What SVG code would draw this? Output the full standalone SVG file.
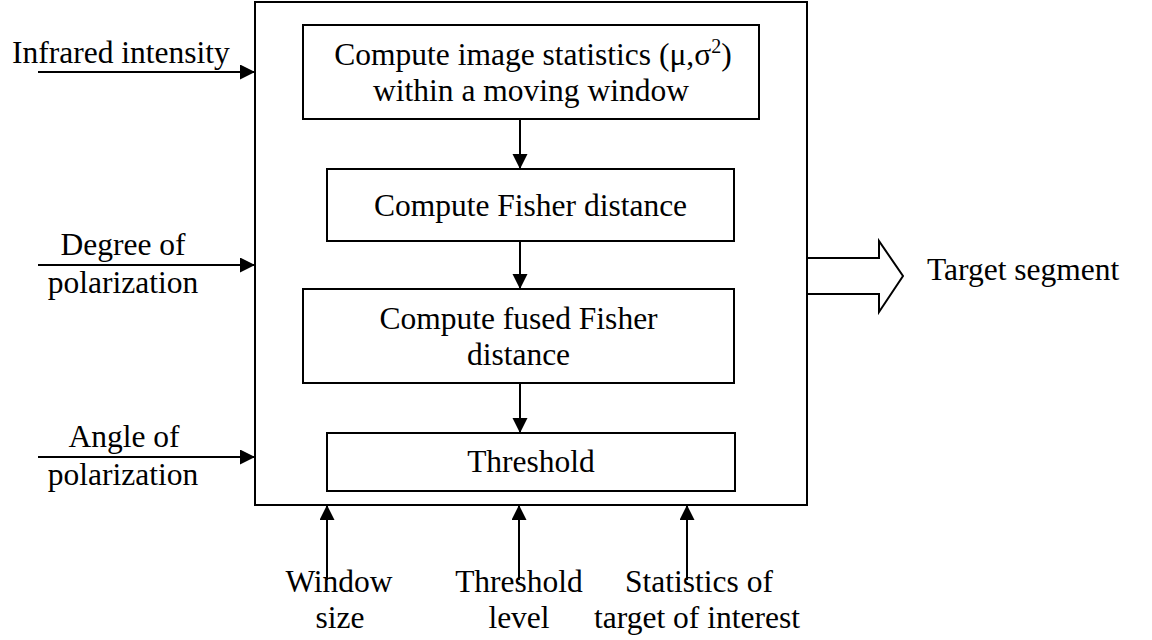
<svg xmlns="http://www.w3.org/2000/svg" width="1152" height="640" viewBox="0 0 1152 640">
<style>
text{font-family:"Liberation Serif","Times New Roman",serif;font-size:31.5px;fill:#000}
.c{text-anchor:middle}
.box{fill:#fff;stroke:#000;stroke-width:2}
.ln{stroke:#000;stroke-width:2;fill:none}
</style>
<defs>
<marker id="ah" markerUnits="userSpaceOnUse" markerWidth="16" markerHeight="16" refX="15" refY="7.5" orient="auto">
<path d="M0,0 L15,7.5 L0,15 Z" fill="#000"/>
</marker>
</defs>
<rect width="1152" height="640" fill="#fff"/>
<g id="system"><rect class="box" x="255" y="2" width="552" height="503" stroke-width="2.2"/></g>
<g id="stats"><rect class="box" x="303" y="25" width="456" height="94"/>
<text class="c" x="533" y="65">Compute image statistics (μ,σ<tspan font-size="20" dy="-12">2</tspan><tspan dy="12">)</tspan></text>
<text class="c" x="531" y="101">within a moving window</text></g>
<g id="fisher"><rect class="box" x="327" y="169" width="407" height="72"/>
<text class="c" x="530.5" y="216">Compute Fisher distance</text></g>
<g id="fused"><rect class="box" x="303" y="289" width="431" height="94"/>
<text class="c" x="518.5" y="329">Compute fused Fisher</text>
<text class="c" x="518.5" y="365">distance</text></g>
<g id="threshold"><rect class="box" x="327" y="433" width="408" height="58"/>
<text class="c" x="531" y="472">Threshold</text></g>
<g id="in-infrared"><text x="12" y="63">Infrared intensity</text></g>
<g id="in-degree"><text class="c" x="123" y="255">Degree of</text><text class="c" x="123" y="293">polarization</text></g>
<g id="in-angle"><text class="c" x="124" y="447">Angle of</text><text class="c" x="123" y="485">polarization</text></g>
<g id="in-window"><text class="c" x="339" y="592">Window</text><text class="c" x="340" y="628">size</text></g>
<g id="in-level"><text class="c" x="519" y="592">Threshold</text><text class="c" x="519" y="628">level</text></g>
<g id="in-target"><text class="c" x="699" y="592">Statistics of</text><text class="c" x="697" y="628">target of interest</text></g>
<g id="out-segment"><text x="927" y="280">Target segment</text></g>
<g id="connectors">
<line class="ln" x1="520" y1="119" x2="520" y2="169" marker-end="url(#ah)"/>
<line class="ln" x1="520" y1="241" x2="520" y2="289" marker-end="url(#ah)"/>
<line class="ln" x1="520" y1="383" x2="520" y2="433" marker-end="url(#ah)"/>
<line class="ln" x1="38" y1="72" x2="255" y2="72" marker-end="url(#ah)"/>
<line class="ln" x1="38" y1="265" x2="255" y2="265" marker-end="url(#ah)"/>
<line class="ln" x1="38" y1="457" x2="255" y2="457" marker-end="url(#ah)"/>
<line class="ln" x1="327" y1="580" x2="327" y2="505" marker-end="url(#ah)"/>
<line class="ln" x1="519" y1="580" x2="519" y2="505" marker-end="url(#ah)"/>
<line class="ln" x1="687" y1="580" x2="687" y2="505" marker-end="url(#ah)"/>
<polyline class="ln" points="807,258 879,258 879,241 903,276 879,312 879,294 807,294"/>
</g>
</svg>
